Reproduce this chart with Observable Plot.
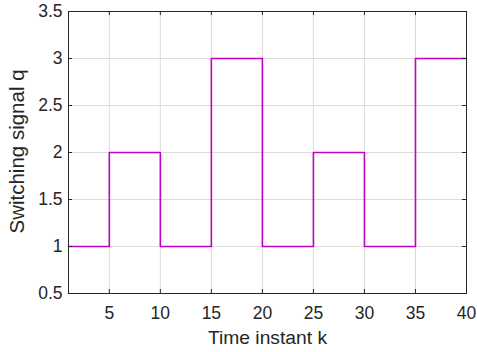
<!DOCTYPE html>
<html>
<head>
<meta charset="utf-8">
<script src="https://cdn.jsdelivr.net/npm/d3@7"></script>
<script src="https://cdn.jsdelivr.net/npm/@observablehq/plot@0.6"></script>
<style>
  html, body { margin: 0; padding: 0; background: #fff; }
  #chart svg { display: block; }
</style>
</head>
<body>
<div id="chart"></div>
<script>
// Time instants k = 1..40
const k = d3.range(1, 41);
// Switching signal q at each time instant
const q = [
  1, 1, 1, 1,
  2, 2, 2, 2, 2,
  1, 1, 1, 1, 1,
  3, 3, 3, 3, 3,
  1, 1, 1, 1, 1,
  2, 2, 2, 2, 2,
  1, 1, 1, 1, 1,
  3, 3, 3, 3, 3, 3
];
const xTicks = [5, 10, 15, 20, 25, 30, 35, 40];
const yTicks = [0.5, 1, 1.5, 2, 2.5, 3, 3.5];
const xLabel = "Time instant k";
const yLabel = "Switching signal q";

const data = k.map((kk, i) => ({k: kk, q: q[i]}));

const W = 477, H = 352;
const mL = 68, mR = 11, mT = 11, mB = 59;
const innerW = W - mL - mR, innerH = H - mT - mB;
const tickLen = 4;
const axisColor = "#262626";
const font = "'Liberation Sans', Arial, Helvetica, sans-serif";

const chart = Plot.plot({
  width: W,
  height: H,
  marginLeft: mL,
  marginRight: mR,
  marginTop: mT,
  marginBottom: mB,
  style: {fontFamily: font, background: "#fff", color: axisColor},
  x: {domain: [1, 40]},
  y: {domain: [0.5, 3.5]},
  marks: [
    Plot.gridX(xTicks, {stroke: "#dcdcdc", strokeOpacity: 1}),
    Plot.gridY(yTicks, {stroke: "#dcdcdc", strokeOpacity: 1}),
    Plot.line(data, {x: "k", y: "q", curve: "step-after", stroke: "#c200c6", strokeWidth: 1.6}),
    Plot.frame({stroke: axisColor, strokeWidth: 1}),
    Plot.tickX(xTicks, {x: d => d, insetTop: innerH - tickLen, stroke: axisColor}),
    Plot.tickX(xTicks, {x: d => d, insetBottom: innerH - tickLen, stroke: axisColor}),
    Plot.tickY(yTicks, {y: d => d, insetRight: innerW - tickLen, stroke: axisColor}),
    Plot.tickY(yTicks, {y: d => d, insetLeft: innerW - tickLen, stroke: axisColor}),
    Plot.axisX(xTicks, {tickSize: 0, tickPadding: 13.5, fontSize: 17.5, label: null, fill: axisColor}),
    Plot.axisY(yTicks, {tickSize: 0, tickPadding: 6, fontSize: 17.5, label: null, fill: axisColor,
      tickFormat: d => String(d)}),
    Plot.text([xLabel], {frameAnchor: "bottom", dy: 44, fontSize: 19.25, lineAnchor: "middle", fill: axisColor}),
    Plot.text([yLabel], {frameAnchor: "left", textAnchor: "middle", rotate: -90, dx: -51, dy: -1, fontSize: 20.5, lineAnchor: "middle", fill: axisColor})
  ]
});

document.getElementById("chart").appendChild(chart);
</script>
</body>
</html>
